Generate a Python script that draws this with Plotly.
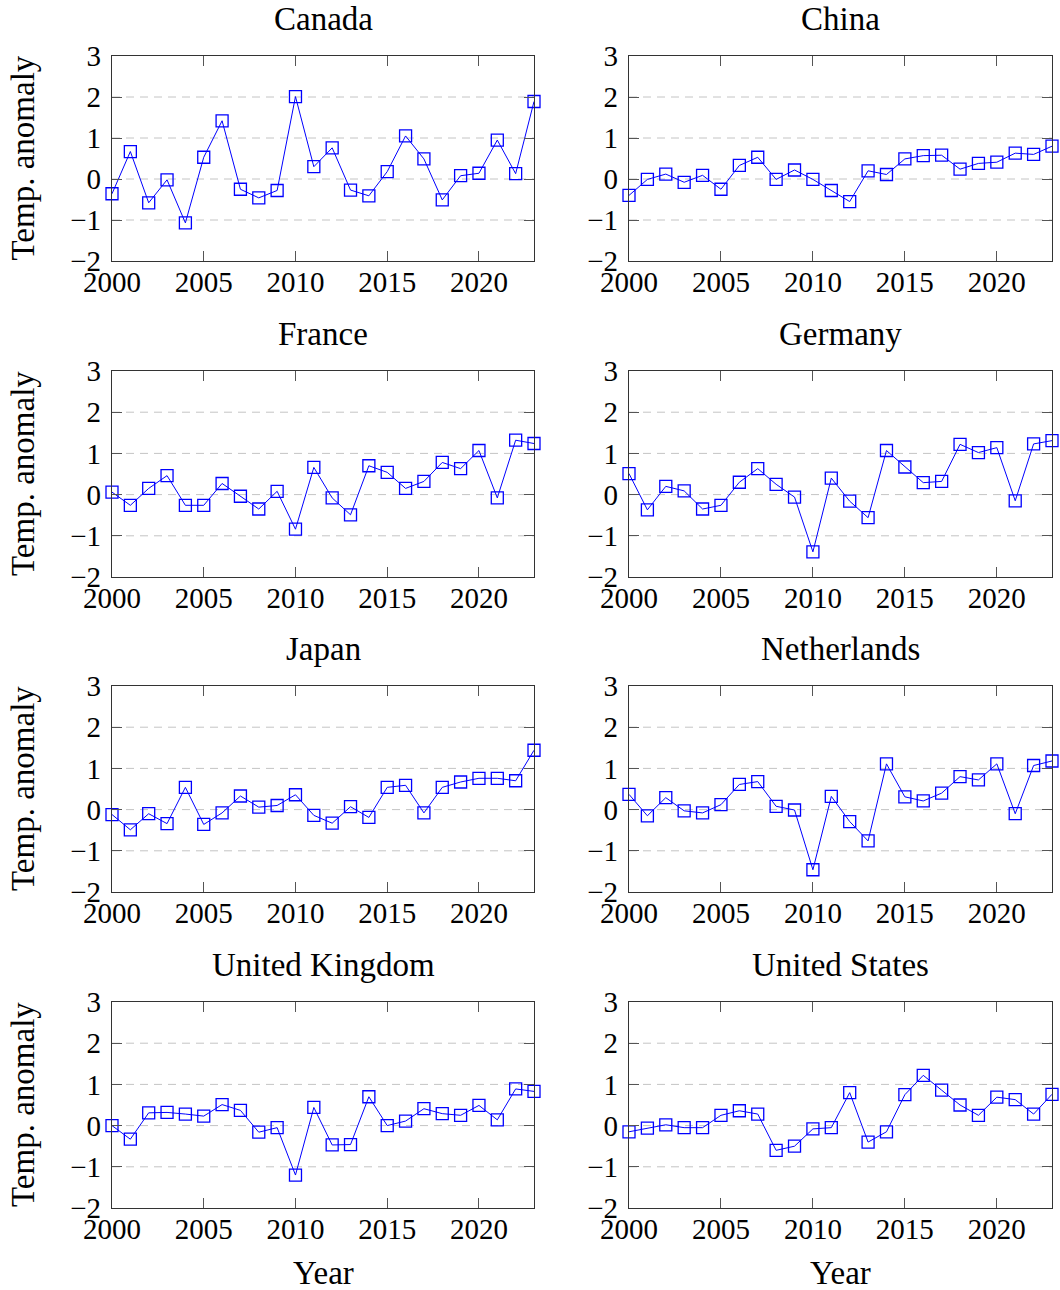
import plotly.graph_objects as go

years = list(range(2000, 2024))
countries = ["Canada", "China", "France", "Germany",
             "Japan", "Netherlands", "United Kingdom", "United States"]

canada = [-0.36, 0.67, -0.58, -0.02, -1.07, 0.53, 1.42, -0.25, -0.46, -0.28, 2.01, 0.30,
          0.76, -0.27, -0.41, 0.18, 1.05, 0.49, -0.51, 0.08, 0.14, 0.95, 0.13, 1.89]
china = [-0.40, -0.01, 0.12, -0.08, 0.09, -0.25, 0.33, 0.53, -0.01, 0.22, -0.01, -0.28,
         -0.55, 0.20, 0.11, 0.49, 0.57, 0.58, 0.24, 0.38, 0.41, 0.63, 0.60, 0.80]
france = [0.06, -0.26, 0.15, 0.46, -0.26, -0.26, 0.27, -0.04, -0.35, 0.08, -0.84, 0.66,
          -0.08, -0.49, 0.70, 0.54, 0.15, 0.32, 0.78, 0.63, 1.07, -0.08, 1.32, 1.24]
germany = [0.51, -0.37, 0.20, 0.09, -0.35, -0.26, 0.30, 0.63, 0.25, -0.06, -1.39, 0.40,
           -0.16, -0.56, 1.07, 0.67, 0.29, 0.32, 1.22, 1.02, 1.14, -0.15, 1.23, 1.31]
japan = [-0.12, -0.49, -0.10, -0.34, 0.54, -0.36, -0.08, 0.33, 0.06, 0.10, 0.36, -0.14,
         -0.33, 0.07, -0.19, 0.54, 0.59, -0.08, 0.54, 0.67, 0.76, 0.76, 0.70, 1.44]
netherlands = [0.37, -0.15, 0.29, -0.03, -0.08, 0.12, 0.61, 0.68, 0.08, -0.01, -1.46, 0.32,
               -0.29, -0.76, 1.11, 0.31, 0.21, 0.40, 0.80, 0.72, 1.11, -0.10, 1.07, 1.18]
united_kingdom = [0.00, -0.33, 0.31, 0.32, 0.28, 0.23, 0.51, 0.37, -0.16, -0.05, -1.20, 0.44,
                  -0.47, -0.46, 0.70, 0.00, 0.11, 0.41, 0.29, 0.25, 0.49, 0.14, 0.89, 0.83]
united_states = [-0.15, -0.06, 0.02, -0.05, -0.05, 0.25, 0.36, 0.28, -0.60, -0.50, -0.08, -0.05,
                 0.80, -0.40, -0.15, 0.75, 1.22, 0.86, 0.50, 0.25, 0.69, 0.63, 0.28, 0.76]

series = [canada, china, france, germany, japan, netherlands, united_kingdom, united_states]

x_ticks = [2000, 2005, 2010, 2015, 2020]
y_ticks = [-2, -1, 0, 1, 2, 3]
y_grid = [-1, 0, 1, 2]

W, H = 1060, 1290
FONT = "Liberation Serif"
FS = 29      # tick labels
FS_T = 33    # titles and axis labels
col_px = [(112, 534), (629, 1052)]
row_px = [(56, 261), (371, 577), (686, 892), (1002, 1208)]


def px_x(v):
    return v / W


def px_y(v):
    return 1 - v / H


fig = go.Figure()
layout = dict(
    template="none",
    width=W, height=H,
    margin=dict(l=0, r=0, t=0, b=0, pad=0),
    paper_bgcolor="white", plot_bgcolor="white",
    showlegend=False,
    font=dict(family=FONT, size=FS, color="black"),
)
annotations = []
shapes = []

for i, (name, vals) in enumerate(zip(countries, series)):
    r, c = divmod(i, 2)
    xa = "x" if i == 0 else f"x{i+1}"
    ya = "y" if i == 0 else f"y{i+1}"
    fig.add_trace(go.Scatter(
        x=years, y=vals, xaxis=xa, yaxis=ya, mode="lines+markers",
        line=dict(color="#0000ff", width=1),
        marker=dict(symbol="square-open", size=12, color="#0000ff",
                    line=dict(width=1.3, color="#0000ff")),
        cliponaxis=False,
    ))
    x0, x1 = col_px[c]
    y0, y1 = row_px[r]
    dom_x = [px_x(x0), px_x(x1)]
    dom_y = [px_y(y1), px_y(y0)]
    layout["xaxis" if i == 0 else f"xaxis{i+1}"] = dict(
        domain=dom_x, anchor=ya, range=[2000, 2023], automargin=False,
        tickmode="array", tickvals=x_ticks, ticktext=[str(t) for t in x_ticks],
        ticks="inside", ticklen=10, tickwidth=1, tickcolor="#555555",
        showline=True, linecolor="#333333", linewidth=1.2, mirror="allticks",
        showgrid=False, zeroline=False, ticklabelstandoff=-5,
        tickfont=dict(family=FONT, size=FS, color="black"),
    )
    layout["yaxis" if i == 0 else f"yaxis{i+1}"] = dict(
        domain=dom_y, anchor=xa, range=[-2, 3], automargin=False,
        tickmode="array", tickvals=y_ticks,
        ticktext=[str(t).replace("-", "\u2212") for t in y_ticks],
        ticks="inside", ticklen=10, tickwidth=1, tickcolor="#555555",
        showline=True, linecolor="#333333", linewidth=1.2, mirror="allticks",
        showgrid=False, zeroline=False, ticklabelstandoff=4,
        tickfont=dict(family=FONT, size=FS, color="black"),
    )
    for g in y_grid:
        shapes.append(dict(type="line", xref=f"{xa} domain", yref=ya,
                           x0=0, x1=1, y0=g, y1=g, layer="below",
                           line=dict(color="#c4c4c4", width=1, dash="8px,6px")))
    annotations.append(dict(
        text=name, xref="paper", yref="paper",
        x=px_x((x0 + x1) / 2), y=px_y(y0 - 17),
        xanchor="center", yanchor="bottom", showarrow=False,
        font=dict(family=FONT, size=FS_T, color="black"),
    ))
    if c == 0:
        annotations.append(dict(
            text="Temp. anomaly", xref="paper", yref="paper",
            x=px_x(23), y=px_y((y0 + y1) / 2), textangle=-90,
            xanchor="center", yanchor="middle", showarrow=False,
            font=dict(family=FONT, size=FS_T, color="black"),
        ))
    if r == 3:
        annotations.append(dict(
            text="Year", xref="paper", yref="paper",
            x=px_x((x0 + x1) / 2), y=px_y(1273),
            xanchor="center", yanchor="middle", showarrow=False,
            font=dict(family=FONT, size=FS_T, color="black"),
        ))

layout["annotations"] = annotations
layout["shapes"] = shapes
fig.update_layout(**layout)
fig.write_html(
    "out.html",
    config={"displayModeBar": False, "staticPlot": True},
    post_script="document.body.style.margin='0px';document.body.style.overflow='hidden';",
)
